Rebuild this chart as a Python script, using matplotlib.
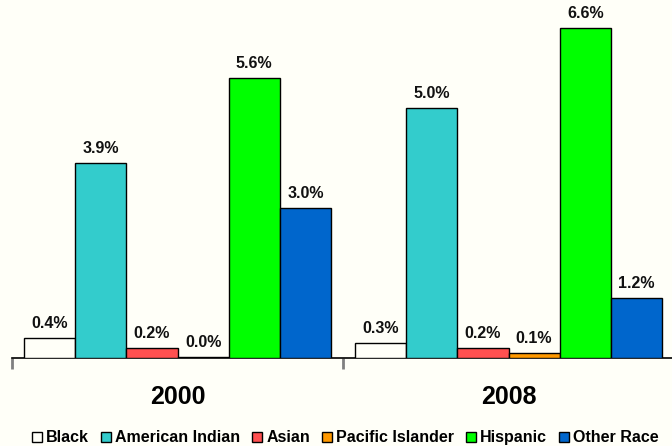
import matplotlib
matplotlib.use("Agg")
import matplotlib.pyplot as plt
from matplotlib.patches import Rectangle
import numpy as np

years = ["2000", "2008"]
races = ["Black", "American Indian", "Asian", "Pacific Islander", "Hispanic", "Other Race"]
values_2000 = [0.4, 3.9, 0.2, 0.03, 5.6, 3.0]
values_2008 = [0.3, 5.0, 0.2, 0.1, 6.6, 1.2]
labels_2000 = ["0.4%", "3.9%", "0.2%", "0.0%", "5.6%", "3.0%"]
labels_2008 = ["0.3%", "5.0%", "0.2%", "0.1%", "6.6%", "1.2%"]
colors = ["#FFFFF8", "#33CCCC", "#FF5050", "#FF9900", "#00FF00", "#0066CC"]

bg = "#FFFFF8"
plt.rcParams['font.family'] = ['Liberation Sans', 'DejaVu Sans']

W, H = 672, 446
fig = plt.figure(figsize=(W/100, H/100), dpi=100, facecolor=bg)
ax = fig.add_axes([12/W, 88/H, 662/W, 350/H])
ax.set_facecolor(bg)

data = [values_2000, values_2008]
labs = [labels_2000, labels_2008]
bw = (307/331) / 6
x = np.arange(len(years))
for i in range(len(races)):
    vals = [data[g][i] for g in range(len(years))]
    pos = x - 3*bw + (i + 0.5)*bw
    ax.bar(pos, vals, width=bw, color=colors[i], edgecolor="black", linewidth=1.0, zorder=3)
    for g in range(len(years)):
        ax.annotate(labs[g][i], (pos[g], vals[g]), xytext=(0, 5), textcoords="offset points",
                    ha="center", va="bottom", fontsize=11.5, fontweight="bold", color="#111111")

ax.set_xlim(-0.5, 1.5)
ax.set_ylim(0, 7.0)
for s in ["left", "right", "top"]:
    ax.spines[s].set_visible(False)
ax.spines["bottom"].set_color("black")
ax.spines["bottom"].set_linewidth(1.2)
ax.set_yticks([])
ax.set_xticks([-0.5, 0.5, 1.5], minor=False)
ax.set_xticklabels([])
ax.tick_params(axis="x", which="major", length=8, width=2, color="#808080", direction="out")
for xi, yr in zip(x, years):
    ax.text(xi, -0.77, yr, ha="center", va="center", fontsize=18, fontweight="bold",
            transform=ax.transData)

# manual legend, single baseline
renderer = fig.canvas.get_renderer()
box = 10
gap_box_text = 4
gap_item = 12
baseline_y = 442
fs = 11.5
texts = []
widths = []
for r in races:
    t = fig.text(0, 0, r, fontsize=fs, fontweight="bold", ha="left", va="baseline")
    widths.append(t.get_window_extent(renderer).width)
    texts.append(t)
xcur = 32
for t, w, c in zip(texts, widths, colors):
    fig.add_artist(Rectangle((xcur / W, (H - baseline_y) / H), box / W, box / H,
                             transform=fig.transFigure, facecolor=c, edgecolor="black",
                             linewidth=1.0))
    t.set_position(((xcur + box + gap_box_text) / W, (H - baseline_y) / H))
    xcur += box + gap_box_text + w + gap_item

fig.savefig("out.png", dpi=100, facecolor=bg)
